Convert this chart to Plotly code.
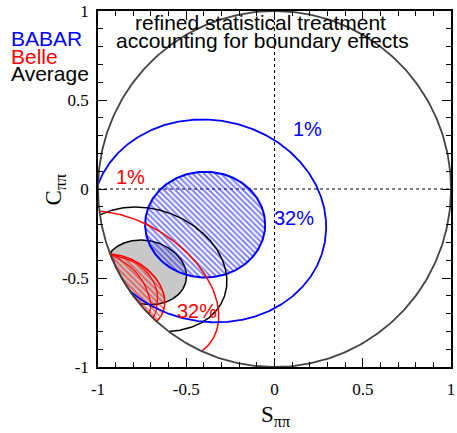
import numpy as np
import plotly.graph_objects as go

# ---------------- data ----------------
# BABAR 1% CL contour points (S, C)
babar1_S = [-1.000, -0.907, -0.739, -0.552, -0.384, -0.179, 0.004, 0.157, 0.246,
            0.259, 0.282, 0.240, 0.166, 0.000, -0.207, -0.330, -0.459, -0.645, -0.776]
babar1_C = [0.000, 0.175, 0.315, 0.380, 0.395, 0.343, 0.278, 0.147, 0.000,
            -0.105, -0.235, -0.460, -0.570, -0.664, -0.729, -0.745, -0.729, -0.683, -0.627]
# BABAR 32% CL region (ellipse): centre and semi-axes
babar32_center = [-0.393, -0.200]
babar32_axes = [0.340, 0.297]

# Belle 1% CL contour points
belle1_S = [-0.990, -0.870, -0.730, -0.617, -0.515, -0.440, -0.375, -0.337, -0.323,
            -0.328, -0.334, -0.412]
belle1_C = [-0.120, -0.155, -0.193, -0.254, -0.347, -0.421, -0.496, -0.589, -0.683,
            -0.757, -0.830, -0.911]
# Belle 32% CL region: outer outline points and two inner arcs
belle32_S = [-0.929, -0.869, -0.795, -0.720, -0.664, -0.627, -0.623, -0.645, -0.668]
belle32_C = [-0.366, -0.375, -0.403, -0.450, -0.515, -0.589, -0.645, -0.720, -0.744]
belle32b_S = [-0.929, -0.776, -0.701, -0.664, -0.673, -0.690]
belle32b_C = [-0.366, -0.421, -0.496, -0.589, -0.692, -0.724]
belle32c_S = [-0.929, -0.813, -0.739, -0.701, -0.710]
belle32c_C = [-0.366, -0.440, -0.533, -0.645, -0.704]

# Average 1% CL contour points
avg1_S = [-0.990, -0.869, -0.739, -0.580, -0.431, -0.337, -0.278, -0.272, -0.291,
          -0.365, -0.459, -0.571, -0.600]
avg1_C = [-0.140, -0.114, -0.105, -0.142, -0.216, -0.328, -0.477, -0.524, -0.627,
          -0.720, -0.776, -0.795, -0.800]
# Average 32% CL region points
avg32_S = [-0.929, -0.869, -0.739, -0.608, -0.524, -0.500, -0.524, -0.589, -0.683, -0.757]
avg32_C = [-0.356, -0.310, -0.287, -0.328, -0.403, -0.496, -0.571, -0.623, -0.649, -0.645]

tick_vals = [-1, -0.5, 0, 0.5, 1]
tick_text = ["-1", "-0.5", "0", "0.5", "1"]

BLUE = "#0000ff"
RED = "#ff0000"


def fit_conic(S, C, n=721):
    """Least-squares ellipse through the read contour points."""
    S = np.asarray(S, float)
    C = np.asarray(C, float)
    M = np.column_stack([S * S, S * C, C * C, S, C])
    A, B, Cc, D, E = np.linalg.lstsq(M, np.ones_like(S), rcond=None)[0]
    det = 4 * A * Cc - B * B
    x0 = (B * E - 2 * Cc * D) / det
    y0 = (B * D - 2 * A * E) / det
    k = A * x0 ** 2 + B * x0 * y0 + Cc * y0 ** 2 + D * x0 + E * y0 - 1
    phi = np.linspace(0, 2 * np.pi, n)
    dx, dy = np.cos(phi), np.sin(phi)
    q = A * dx * dx + B * dx * dy + Cc * dy * dy
    r = np.sqrt(np.clip(-k / q, 0, None))
    return x0 + r * dx, y0 + r * dy


def clip_line(x, y):
    """Keep only the part inside the physical region S^2+C^2<=1."""
    out = x * x + y * y > 1.0
    x = np.where(out, np.nan, x)
    y = np.where(out, np.nan, y)
    return x, y


def clip_fill(x, y):
    """Project the outside part onto the boundary circle."""
    r = np.sqrt(x * x + y * y)
    s = np.where(r > 1, 1 / r, 1.0)
    return x * s, y * s


fig = go.Figure()

# dashed axes lines
fig.add_trace(go.Scatter(x=[0, 0], y=[-1, 1], mode="lines",
                         line=dict(color="black", width=1, dash="3px,3px")))
fig.add_trace(go.Scatter(x=[-1, 1], y=[0, 0], mode="lines",
                         line=dict(color="black", width=1, dash="3px,3px")))

# Average 32% (grey filled)
xs, ys = clip_fill(*fit_conic(avg32_S, avg32_C))
fig.add_trace(go.Scatter(x=xs, y=ys, mode="lines", fill="toself",
                         fillcolor="#c8c8c8", line=dict(color="black", width=1.5)))

# BABAR 32% (blue hatched)
t = np.linspace(0, 2 * np.pi, 241)
bx = babar32_center[0] + babar32_axes[0] * np.cos(t)
by = babar32_center[1] + babar32_axes[1] * np.sin(t)
fig.add_trace(go.Scatter(x=bx, y=by, mode="lines", fill="toself",
                         fillcolor="rgba(0,0,0,0)",
                         fillpattern=dict(shape="\\", fgcolor=BLUE, size=4, solidity=0.5),
                         line=dict(color=BLUE, width=2)))

# Belle 32% (red hatched)
xs, ys = clip_fill(*fit_conic(belle32_S, belle32_C))
fig.add_trace(go.Scatter(x=xs, y=ys, mode="lines", fill="toself",
                         fillcolor="rgba(0,0,0,0)",
                         fillpattern=dict(shape="\\", fgcolor=RED, size=4, solidity=0.5),
                         line=dict(color=RED, width=1.5)))
for S, C in [(belle32b_S, belle32b_C), (belle32c_S, belle32c_C)]:
    fig.add_trace(go.Scatter(x=S, y=C, mode="lines",
                             line=dict(color=RED, width=1.2, shape="spline", smoothing=0.8)))

# 1% contours
for S, C, col, w in [(avg1_S, avg1_C, "black", 1.5),
                     (belle1_S, belle1_C, RED, 1.5),
                     (babar1_S, babar1_C, BLUE, 1.8)]:
    xs, ys = clip_line(*fit_conic(S, C))
    fig.add_trace(go.Scatter(x=xs, y=ys, mode="lines", connectgaps=False,
                             line=dict(color=col, width=w)))

# physical boundary
tc = np.linspace(0, 2 * np.pi, 361)
fig.add_trace(go.Scatter(x=np.cos(tc), y=np.sin(tc), mode="lines",
                         line=dict(color="#444444", width=1.8)))

W, H = 457, 433
L, R, T, B = 98, 2, 9, 66
pw, ph = W - L - R, H - T - B


def px(x):
    return (x - L) / pw


def py(y):
    return (H - B - y) / ph


SANS = "Liberation Sans, Arial, sans-serif"
SERIF = "Liberation Serif, Times New Roman, serif"

ann = []


def text(x, y, s, color="black", size=20, font=SANS, xanchor="center", angle=0):
    ann.append(dict(x=px(x), y=py(y), xref="paper", yref="paper", text=s, showarrow=False,
                    xanchor=xanchor, yanchor="middle", textangle=angle,
                    font=dict(family=font, size=size, color=color)))


text(262, 21, "refined statistical treatment", size=21)
text(264, 39, "accounting for boundary effects", size=21)
text(8, 37, "BABAR", BLUE, size=21, xanchor="left")
text(8, 54.5, "Belle", RED, size=21, xanchor="left")
text(8, 71.5, "Average", "black", size=21, xanchor="left")
text(310, 128, "1%", BLUE)
text(131, 176, "1%", RED)
text(296, 217, "32%", BLUE)
text(198, 311, "32%", RED)
text(278, 416, "S<sub>ππ</sub>", size=23, font=SERIF)
text(55, 188, "C<sub>ππ</sub>", size=23, font=SERIF, angle=-90)

axis_common = dict(range=[-1, 1], tickvals=tick_vals, ticktext=tick_text,
                   ticks="inside", ticklen=9, tickwidth=1, tickcolor="black",
                   showline=True, linecolor="black", linewidth=1.5, mirror="ticks",
                   showgrid=False, zeroline=False, ticklabeloverflow="allow",
                   minor=dict(dtick=0.1, ticks="inside", ticklen=5, tickwidth=1, tickcolor="black"),
                   tickfont=dict(family=SERIF, size=17, color="black"))

fig.update_layout(width=W, height=H, margin=dict(l=L, r=R, t=T, b=B),
                  paper_bgcolor="white", plot_bgcolor="white", showlegend=False,
                  xaxis=dict(**axis_common, ticklabelstandoff=6),
                  yaxis=dict(**axis_common, ticklabelstandoff=4),
                  annotations=ann)

fig.write_html("out.html")
